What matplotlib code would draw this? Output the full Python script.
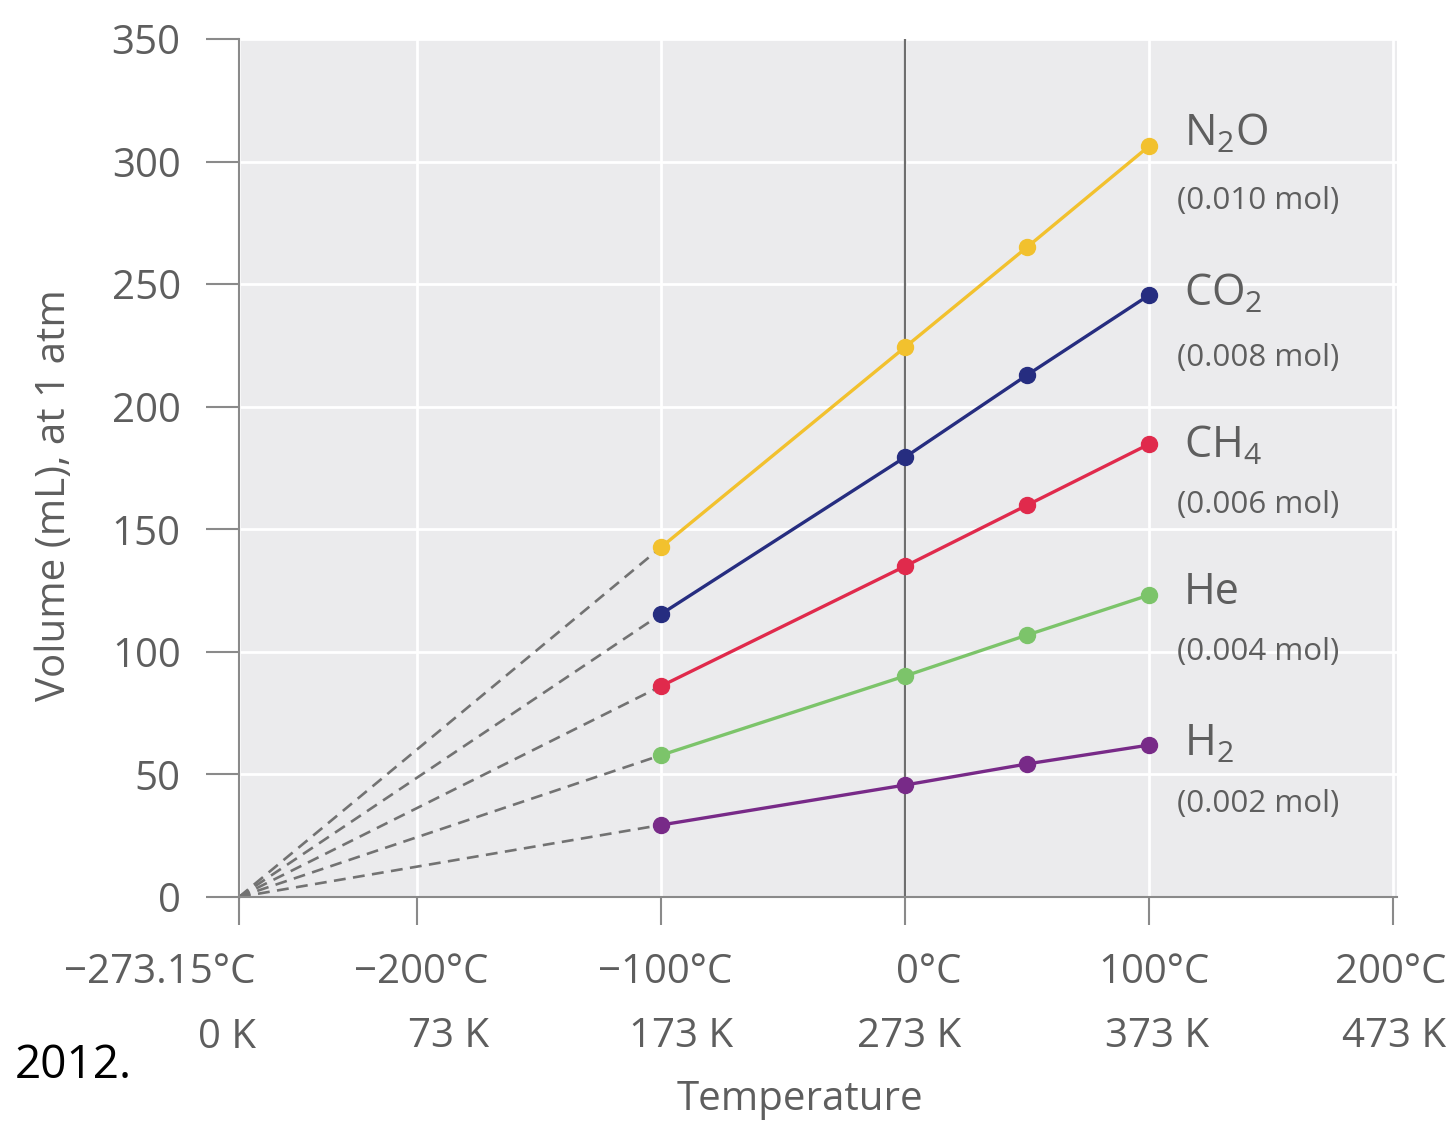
"""
Charles's law plot: volume of five gas samples at 1 atm versus temperature,
with dashed extrapolations back to absolute zero.
"""

import matplotlib

matplotlib.use("Agg")
import matplotlib.pyplot as plt

# ──────────────────────────────────────────────────────────────────────────────
# Data
# ──────────────────────────────────────────────────────────────────────────────

temps_c = [-100, 0, 50, 100]
gases = ["N$_2$O", "CO$_2$", "CH$_4$", "He", "H$_2$"]
moles = ["(0.010 mol)", "(0.008 mol)", "(0.006 mol)", "(0.004 mol)", "(0.002 mol)"]
vol_n2o = [142.8, 224.4, 265.2, 306.4]
vol_co2 = [115.5, 179.5, 213.0, 245.6]
vol_ch4 = [86.1, 135.0, 159.9, 184.8]
vol_he = [57.9, 90.2, 106.9, 123.2]
vol_h2 = [29.4, 45.7, 54.3, 62.0]

abs_zero = -273.15
xtick_vals = [-273.15, -200, -100, 0, 100, 200]
xtick_c = ["\u2212273.15\u00b0C", "\u2212200\u00b0C", "\u2212100\u00b0C", "0\u00b0C", "100\u00b0C", "200\u00b0C"]
xtick_k = ["0 K", "73 K", "173 K", "273 K", "373 K", "473 K"]
yticks = [0, 50, 100, 150, 200, 250, 300, 350]

# label anchor heights (mL) for gas names and amounts
name_y = [311, 245.6, 183.6, 124, 62]
mol_y = [284, 220, 160, 100, 38]

colors = ["#f2c12e", "#262d80", "#e02a4c", "#7cc46a", "#782a88"]

# ──────────────────────────────────────────────────────────────────────────────
# Style
# ──────────────────────────────────────────────────────────────────────────────

plt.rcParams["font.family"] = ["Open Sans", "DejaVu Sans"]
plt.rcParams["mathtext.default"] = "regular"

TXT = "#5e5e5e"
PANEL = "#ebebed"
AXC = "#8a8a8a"

fig = plt.figure(figsize=(14.51, 11.22), dpi=100)
ax = fig.add_axes([239 / 1451, 1 - 897 / 1122, (1397 - 239) / 1451, (897 - 39) / 1122])
ax.set_facecolor(PANEL)

ax.set_xlim(abs_zero, 201.5)
ax.set_ylim(0, 350)

# grid
ax.set_yticks(yticks)
ax.set_xticks(xtick_vals)
ax.grid(True, color="white", linewidth=2.0, zorder=0)
ax.set_axisbelow(True)

# 0 °C reference line
ax.axvline(0, color="#6e6e6e", linewidth=1.6, zorder=1)

series = [vol_n2o, vol_co2, vol_ch4, vol_he, vol_h2]
for vals, col in zip(series, colors):
    # extrapolation to absolute zero
    ax.plot([abs_zero, temps_c[0]], [0, vals[0]], color="#727272", linewidth=1.9,
            linestyle=(0, (4.5, 2.8)), zorder=2, clip_on=False)
    ax.plot(temps_c, vals, color=col, linewidth=2.4, marker="o", markersize=11.5,
            zorder=3, clip_on=False)

for name, mol, ny, my in zip(gases, moles, name_y, mol_y):
    ax.text(114, ny, name, fontsize=31, color=TXT, ha="left", va="center")
    ax.text(111.5, my, mol, fontsize=22.5, color=TXT, ha="left", va="center")

# spines and ticks
for s in ("top", "right"):
    ax.spines[s].set_visible(False)
for s in ("left", "bottom"):
    ax.spines[s].set_color(AXC)
    ax.spines[s].set_linewidth(1.5)

ax.tick_params(axis="y", length=24, width=1.5, color=AXC, pad=18, labelsize=29,
               labelcolor=TXT)
ax.tick_params(axis="x", length=20, width=1.5, color=AXC, labelbottom=False)

# two-line x tick labels (°C over K), right-aligned within each block
for i, (xv, c_lbl, k_lbl) in enumerate(zip(xtick_vals, xtick_c, xtick_k)):
    if i == 0:
        # absolute-zero label hangs left of its tick; draw lines separately
        for line, dy in ((c_lbl, -40), (k_lbl, -87)):
            ax.annotate(line, xy=(xv, 0), xycoords=("data", "axes fraction"),
                        xytext=(12, dy), textcoords="offset points", ha="right",
                        va="top", fontsize=29, color=TXT, annotation_clip=False)
        continue
    dx = -2 if i == len(xtick_vals) - 1 else 3
    ax.annotate(f"{c_lbl}\n{k_lbl}", xy=(xv, 0), xycoords=("data", "axes fraction"),
                xytext=(dx, -40), textcoords="offset points", ha="center", va="top",
                multialignment="right", fontsize=29, color=TXT, linespacing=1.78,
                annotation_clip=False)

fig.text(55 / 1451, 1 - 495 / 1122, "Volume (mL), at 1 atm", rotation=90,
         fontsize=29, color=TXT, ha="center", va="center")
fig.text(800 / 1451, 1 - 1100 / 1122, "Temperature", fontsize=29, color=TXT,
         ha="center", va="center")
fig.text(15 / 1451, 1 - 1066 / 1122, "2012.", fontsize=33, color="black",
         ha="left", va="center")

fig.savefig("out.png", dpi=100, facecolor="white")
